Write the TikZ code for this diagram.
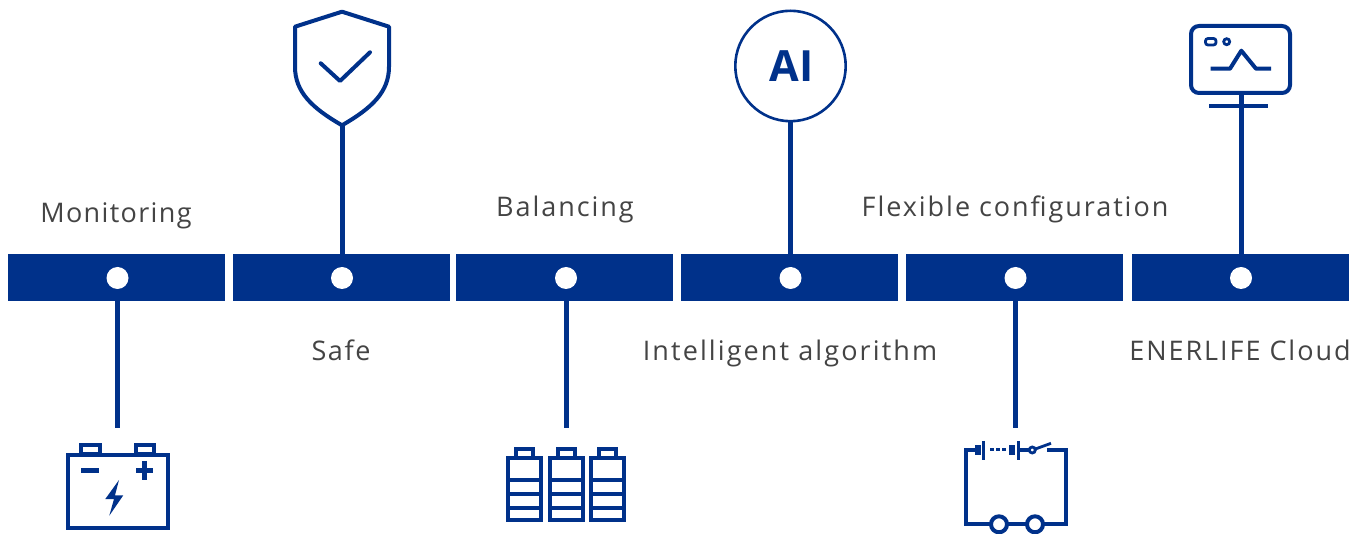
\documentclass[tikz,border=0pt]{standalone}
\usepackage{fontspec}
\setmainfont{Open Sans}
\newfontfamily\labelfont[LetterSpace=7.2]{Open Sans}
\newfontfamily\labelfontA[LetterSpace=5]{Open Sans}
\newfontfamily\labelfontB[LetterSpace=6]{Open Sans}
\newfontfamily\labelfontC[LetterSpace=7.8]{Open Sans}
\newfontfamily\aifont{Open Sans}
\definecolor{brandblue}{HTML}{00318A}
\definecolor{labelgrey}{HTML}{444444}
\tikzset{
  barbox/.style={fill=brandblue,draw=none,minimum width=217pt,minimum height=47pt,inner sep=0pt,outer sep=0pt},
  hubdot/.style={circle,fill=white,draw=none,minimum size=22pt,inner sep=0pt,outer sep=0pt},
  stem/.style={draw=brandblue,line width=5pt},
  icon/.style={draw=brandblue,line width=4pt},
  iconthin/.style={draw=brandblue,line width=2.8pt},
  lab/.style={text=labelgrey,inner sep=0pt,anchor=base},
  labsize/.style={font=#1\fontsize{27}{30}\selectfont}
}
\begin{document}
\begin{tikzpicture}[x=1pt,y=-1pt]
\useasboundingbox (0,0) rectangle (1366,534);
% bars
\node[barbox] (b1) at (116.5,277.5) {};
\node[barbox] (b2) at (341.5,277.5) {};
\node[barbox] (b3) at (564.5,277.5) {};
\node[barbox] (b4) at (789.5,277.5) {};
\node[barbox] (b5) at (1014.5,277.5) {};
\node[barbox] (b6) at (1240.5,277.5) {};
% dots
\node[hubdot] (d1) at (117.5,278) {};
\node[hubdot] (d2) at (342,278) {};
\node[hubdot] (d3) at (566,278) {};
\node[hubdot] (d4) at (790.5,278) {};
\node[hubdot] (d5) at (1015.5,278) {};
\node[hubdot] (d6) at (1241,278) {};
% connector ends
\coordinate (e1) at (117.5,428);
\coordinate (e2) at (342,125);
\coordinate (e3) at (566,428);
\coordinate (e4) at (790.5,121);
\coordinate (e5) at (1015.5,428);
\coordinate (e6) at (1241,94);
\foreach \i in {1,...,6} \draw[stem] (d\i) -- (e\i);
% labels
\node[lab,labsize=\labelfontA] (l1) at (116,222.4) {Monitoring};
\node[lab,labsize=\labelfontB] (l2) at (341,360.6) {Safe};
\node[lab,labsize=\labelfont] (l3) at (565,216.4) {Balancing};
\node[lab,labsize=\labelfontC] (l4) at (790,360.6) {Intelligent algorithm};
\node[lab,labsize=\labelfont] (l5) at (1015,216.4) {Flexible configuration};
\node[lab,labsize=\labelfont] (l6) at (1240,360.6) {ENERLIFE Cloud};
% battery
\draw[icon] (67.5,455) rectangle (167.5,528);
\draw[icon] (81,454) rectangle (99.5,444.7);
\draw[icon] (135.5,454) rectangle (154,444.7);
\draw[brandblue,line width=5pt] (81,470.7) -- (99,470.7);
\draw[brandblue,line width=5pt] (136,470.7) -- (153.3,470.7) (144.7,461) -- (144.7,480);
\fill[brandblue] (119,480) -- (105.3,499) -- (114,499) -- (109.3,515.7) -- (123.3,495.3) -- (115,495.3) -- cycle;
% cells
\foreach \x/\tl/\tr in {507.5/515.7/532.5,550/557.7/575,591/599.3/616.3}{
  \draw[icon] (\x,458.5) rectangle ++(33,61);
  \draw[icon] (\tl,458) rectangle (\tr,449);
  \draw[icon] (\x,480) -- ++(33,0) (\x,494.3) -- ++(33,0) (\x,507.7) -- ++(33,0);
}
% circuit
\draw[icon,line cap=butt] (976,450) -- (965.7,450) -- (965.7,524.3) -- (991,524.3);
\draw[icon] (1007,524.3) -- (1027,524.3);
\draw[icon] (1043,524.3) -- (1066.3,524.3) -- (1066.3,450.5) -- (1047,450.5);
\draw[icon] (999,524.3) circle (8);
\draw[icon] (1035,524.3) circle (8);
\fill[brandblue] (975,445.3) rectangle (981,455.3);
\fill[brandblue] (1009,445.3) rectangle (1015.3,455.3);
\draw[iconthin] (983.3,441) -- (983.3,459.7);
\draw[iconthin] (1018.3,441) -- (1018.3,459.7);
\draw[brandblue,line width=3pt,dash pattern=on 3.5pt off 2.5pt] (990,450) -- (1008,450);
\draw[icon] (1018.3,450) -- (1029,450);
\draw[iconthin] (1032.3,450) circle (3);
\draw[iconthin] (1035.4,449) -- (1051,443.3);
% monitor
\draw[icon,rounded corners=8pt] (1191,26) rectangle (1290,93);
\draw[iconthin,rounded corners=2.5pt] (1205.5,38.5) rectangle (1216,45);
\draw[iconthin] (1226.7,41.7) circle (3);
\draw[icon,line join=round] (1210.7,68.7) -- (1230,68.7) -- (1241.3,50.7) -- (1256,68.7) -- (1271,68.7);
\draw[icon] (1209.3,105.7) -- (1268.3,105.7);
% shield
\draw[icon,line join=round] (342,11.7) -- (389,26.7) -- (389,66.7)
  .. controls (389,92) and (372,108) .. (342,125.3)
  .. controls (312,108) and (295,92) .. (295,66.7)
  -- (295,26.7) -- cycle;
\draw[icon,line cap=round,line join=round] (320.7,63.3) -- (340,81) -- (370,52.3);
% AI
\draw[brandblue,line width=2.6pt] (790.5,66) circle (55.2);
\node[text=brandblue,font=\aifont\bfseries\fontsize{43}{46}\selectfont,inner sep=0pt] (ai) at (791.3,66) {AI};
\end{tikzpicture}
\end{document}
